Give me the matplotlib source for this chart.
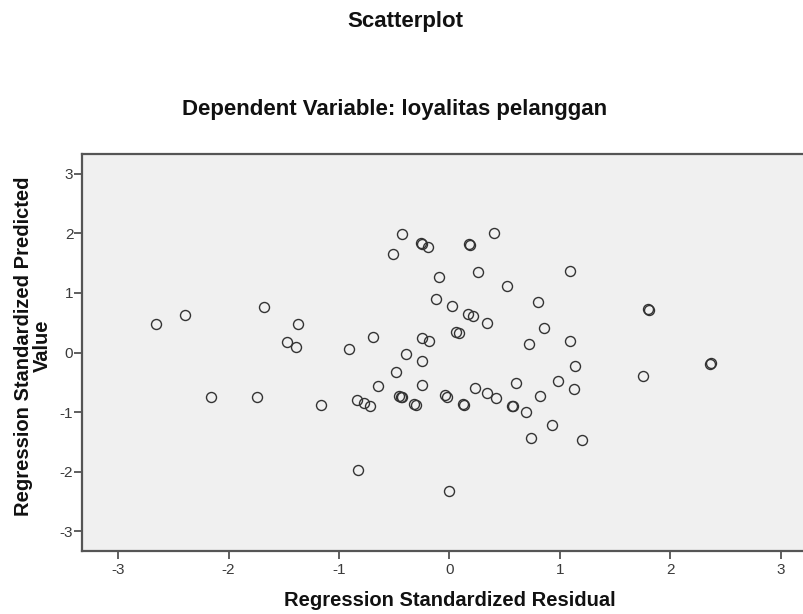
#!/usr/bin/env python3
import matplotlib

matplotlib.use("Agg")
import matplotlib.pyplot as plt

plt.rcParams["font.family"] = ["Liberation Sans", "DejaVu Sans"]

# standardized residual (x) and standardized predicted value (y)
residual = [
    -2.66, -2.39, -1.68, -1.47, -1.39, -1.37, -0.91, -0.69, -0.51, -0.43,
    -0.26, -0.25, -0.19, -0.09, -0.12, 0.02, 0.06, 0.09, -0.25, -0.18,
    -0.39, -0.25, -0.48, 0.40, 0.18, 0.19, 0.26, 0.52, 1.09, 0.80,
    0.17, 0.21, 0.34, 0.86, 0.72, 1.09, 1.14, 1.80, 1.81, 2.37,
    2.36, 1.75, -1.16, -0.84, -0.77, -0.72, -0.65, -0.25, -0.46, -0.44,
    -0.43, -0.32, -0.30, -0.04, -0.02, 0.13, 0.12, -0.83, 0.00, -2.16,
    -1.74, 0.23, 0.34, 0.42, 0.60, 0.58, 0.57, 0.69, 0.82, 0.98,
    1.13, 0.93, 0.74, 1.20,
]
predicted = [
    0.48, 0.63, 0.77, 0.17, 0.10, 0.48, 0.06, 0.26, 1.65, 1.98,
    1.83, 1.82, 1.77, 1.27, 0.90, 0.78, 0.35, 0.33, 0.25, 0.19,
    -0.02, -0.14, -0.33, 2.01, 1.82, 1.81, 1.35, 1.11, 1.37, 0.85,
    0.65, 0.61, 0.50, 0.41, 0.15, 0.20, -0.23, 0.73, 0.72, -0.18,
    -0.19, -0.40, -0.88, -0.79, -0.85, -0.90, -0.57, -0.54, -0.73, -0.75,
    -0.74, -0.86, -0.88, -0.72, -0.74, -0.88, -0.87, -1.97, -2.33, -0.75,
    -0.75, -0.59, -0.68, -0.76, -0.52, -0.89, -0.90, -1.00, -0.73, -0.48,
    -0.62, -1.22, -1.44, -1.46,
]
ticks = [-3, -2, -1, 0, 1, 2, 3]

W, H = 804, 614
fig = plt.figure(figsize=(W / 100, H / 100), dpi=100)
fig.patch.set_facecolor("white")

# plot box runs a little past the right edge of the picture
left, right, top, bottom = 81.7, 817.0, 154.0, 551.0
ax = fig.add_axes([left / W, 1 - bottom / H, (right - left) / W, (bottom - top) / H])
ax.set_facecolor("#f0f0f0")

ax.plot(
    residual,
    predicted,
    linestyle="none",
    marker="o",
    markersize=7.2,
    markerfacecolor="none",
    markeredgecolor="#333333",
    markeredgewidth=1.0,
)

ax.set_xlim(-3.33, 3.33)
ax.set_ylim(-3.33, 3.33)
ax.set_xticks(ticks)
ax.set_yticks(ticks)
ax.set_xticklabels([str(t) for t in ticks])
ax.set_yticklabels([str(t) for t in ticks])
ax.tick_params(
    axis="x", length=5.5, width=1.2, color="#444444", pad=3.5,
    labelsize=11, labelcolor="#3a3a3a",
)
ax.tick_params(
    axis="y", length=5.5, width=1.2, color="#444444", pad=0.5,
    labelsize=11, labelcolor="#3a3a3a",
)
for spine in ax.spines.values():
    spine.set_color("#555555")
    spine.set_linewidth(1.6)

fig.text(405 / W, 1 - 22 / H, "Scatterplot", ha="center", va="center",
         fontsize=16, fontweight="bold", color="#111111")
fig.text(395 / W, 1 - 110 / H, "Dependent Variable: loyalitas pelanggan",
         ha="center", va="center", fontsize=16, fontweight="bold",
         color="#111111")
fig.text(450 / W, 1 - 601 / H, "Regression Standardized Residual",
         ha="center", va="center", fontsize=14.5, fontweight="bold",
         color="#111111")
fig.text(33 / W, 1 - 346 / H, "Regression Standardized Predicted\nValue",
         ha="center", va="center", rotation=90, fontsize=14.5,
         fontweight="bold", color="#111111", linespacing=0.95)

fig.savefig("out.png", dpi=100)
